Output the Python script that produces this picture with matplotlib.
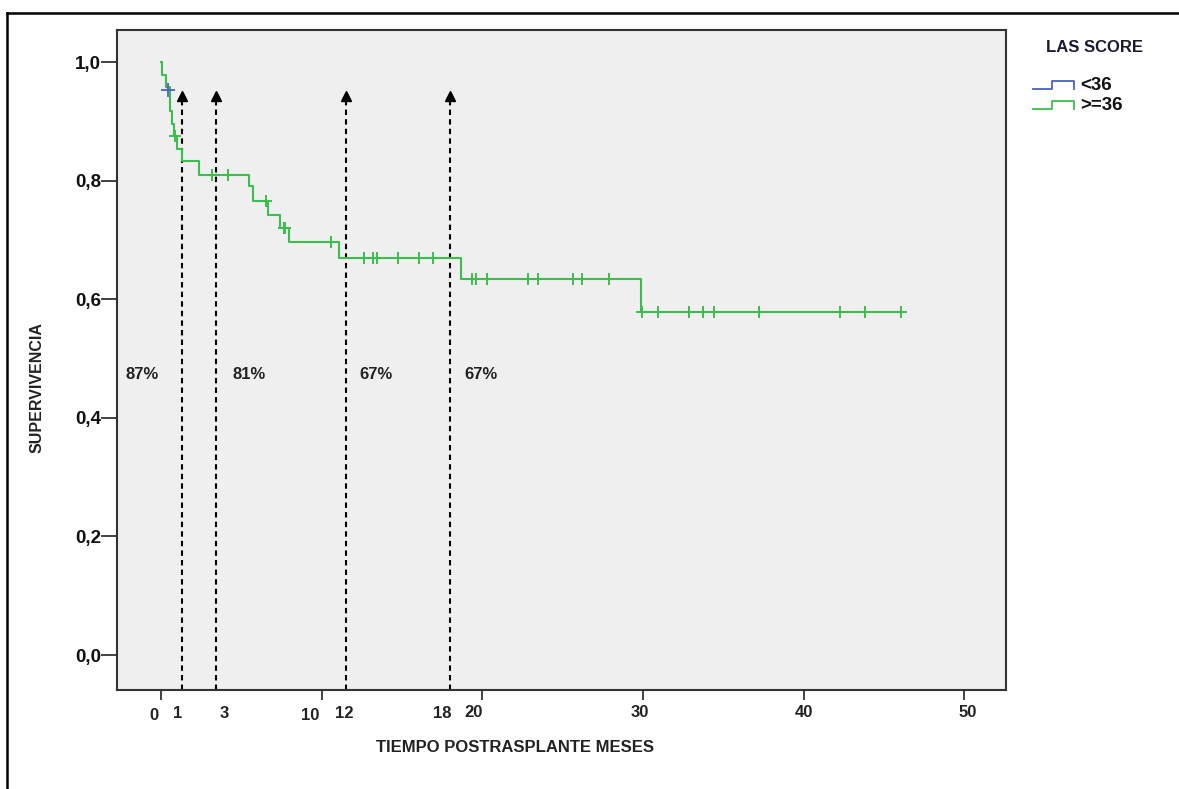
import matplotlib
matplotlib.use('Agg')
import matplotlib.pyplot as plt
import matplotlib.transforms as mtransforms
from matplotlib.lines import Line2D

plt.rcParams['font.family'] = ['Liberation Sans', 'DejaVu Sans']

# Kaplan-Meier curve for LAS >= 36
step_times = [0, 0.05, 0.3, 0.55, 0.7, 0.8, 1.0, 1.3, 2.4, 5.5, 5.75,
              6.65, 7.4, 7.95, 11.1, 18.7, 29.9, 46.06]
step_surv = [1.0, 0.979, 0.958, 0.917, 0.896, 0.875, 0.854, 0.833, 0.810,
             0.791, 0.766, 0.743, 0.720, 0.697, 0.670, 0.635, 0.579, 0.579]

cens_times = [0.9, 3.17, 4.17, 6.52, 7.65, 7.75, 10.56,
              12.67, 13.23, 13.44, 14.79, 16.04, 16.92,
              19.375, 19.625, 20.27, 22.875, 23.5, 25.67, 26.21, 27.92,
              29.94, 30.94, 32.86, 33.75, 34.4, 37.2, 42.27, 43.83, 46.06]
cens_surv = [0.875, 0.810, 0.810, 0.766, 0.720, 0.720, 0.697,
             0.670, 0.670, 0.670, 0.670, 0.670, 0.670,
             0.635, 0.635, 0.635, 0.635, 0.635, 0.635, 0.635, 0.635,
             0.579, 0.579, 0.579, 0.579, 0.579, 0.579, 0.579, 0.579, 0.579]

# LAS < 36 group: a single censored point
blue_times = [0.46]
blue_surv = [0.953]

# marked time points and survival annotations
mark_times = [1.3, 3.45, 11.5, 18.0]
mark_labels = ['1', '3', '12', '18']
mark_label_x = [1.04, 3.94, 11.4, 17.5]
pct_labels = ['87%', '81%', '67%', '67%']
pct_x = [-1.14, 5.49, 13.39, 19.93]
pct_y = 0.473

xticks = [0, 10, 20, 30, 40, 50]
yticks = [0.0, 0.2, 0.4, 0.6, 0.8, 1.0]

green = '#3dbd4e'
blue = '#4a62c0'

W, H = 1179, 789
fig = plt.figure(figsize=(W / 100, H / 100), dpi=100)
ax = fig.add_axes([117 / W, 1 - 690 / H, (1006 - 117) / W, 660 / H])
ax.set_facecolor('#efefef')

ax.step(step_times, step_surv, where='post', color=green, lw=1.5, zorder=3)
ax.plot(cens_times, cens_surv, ls='none', marker='+', ms=9, mew=1.4,
        color=green, zorder=3)
ax.plot(blue_times, blue_surv, ls='none', marker='+', ms=10, mew=1.3,
        color=blue, zorder=4)

ax.set_xlim(-2.73, 52.6)
ax.set_ylim(-0.059, 1.0545)

# dashed arrows
for t in mark_times:
    ax.plot([t, t], [-0.059, 0.94], color='black', lw=1.5,
            ls=(0, (2.6, 2.0)), zorder=2, clip_on=False)
    ax.plot([t], [0.943], marker='^', ms=7, color='black', zorder=2)

for x, s in zip(pct_x, pct_labels):
    ax.text(x, pct_y, s, ha='center', va='center', fontsize=12,
            fontweight='bold', color='#222222')

trans = mtransforms.blended_transform_factory(ax.transData, ax.transAxes)
for x, s in zip(mark_label_x, mark_labels):
    ax.text(x, -0.036, s, transform=trans, ha='center', va='center',
            fontsize=12, fontweight='bold', color='#222222')

ax.set_xticks(xticks)
ax.set_xticklabels([str(v) for v in xticks], fontsize=12,
                   fontweight='bold', color='#222222')
ax.set_yticks(yticks)
ax.set_yticklabels([('%.1f' % v).replace('.', ',') for v in yticks],
                   fontsize=13.5, fontweight='bold', color='#111111')
ax.tick_params(axis='x', length=7.5, width=1.3, color='#333333', pad=3.5)
ax.tick_params(axis='y', length=11.5, width=1.3, color='#333333', pad=0)

# shift some x tick labels like in the original
shifts = {0: (-7, -3), 10: (-11, -3), 20: (-9, 0), 30: (-3, 0), 40: (0, 0), 50: (3, 0)}
for lab, v in zip(ax.get_xticklabels(), xticks):
    dx, dy = shifts[v]
    off = mtransforms.ScaledTranslation(dx / 100, dy / 100, fig.dpi_scale_trans)
    lab.set_transform(lab.get_transform() + off)

for sp in ax.spines.values():
    sp.set_linewidth(1.5)
    sp.set_color('#333333')

fig.text(515 / W, 1 - 748 / H, 'TIEMPO POSTRASPLANTE MESES', ha='center',
         va='center', fontsize=12, fontweight='bold', color='#222222')
fig.text(37 / W, 1 - 388 / H, 'SUPERVIVENCIA', ha='center', va='center',
         rotation=90, fontsize=11.5, fontweight='bold', color='#222222')

# legend
fig.text(1095 / W, 1 - 47 / H, 'LAS SCORE', ha='center', va='center',
         fontsize=12, fontweight='bold', color='#1a1a33')
for (c, lab, ylo, yhi, ytxt) in [(blue, '<36', 89.3, 80.7, 85),
                                   (green, '>=36', 109.3, 100.7, 106)]:
    xs = [1033 / W, 1052 / W, 1052 / W, 1074 / W, 1074 / W]
    ys = [1 - ylo / H, 1 - ylo / H, 1 - yhi / H, 1 - yhi / H, 1 - ylo / H]
    fig.add_artist(Line2D(xs, ys, color=c, lw=1.3))
    fig.text(1080 / W, 1 - ytxt / H, lab, ha='left', va='center',
             fontsize=13.5, fontweight='bold', color='#111111')

# outer frame (top and left edges)
fig.add_artist(Line2D([7 / W, 1.0], [1 - 12.5 / H, 1 - 12.5 / H], color='black', lw=1.8))
fig.add_artist(Line2D([7 / W, 7 / W], [0, 1 - 12.5 / H], color='black', lw=1.8))

fig.savefig('out.png', dpi=100)
